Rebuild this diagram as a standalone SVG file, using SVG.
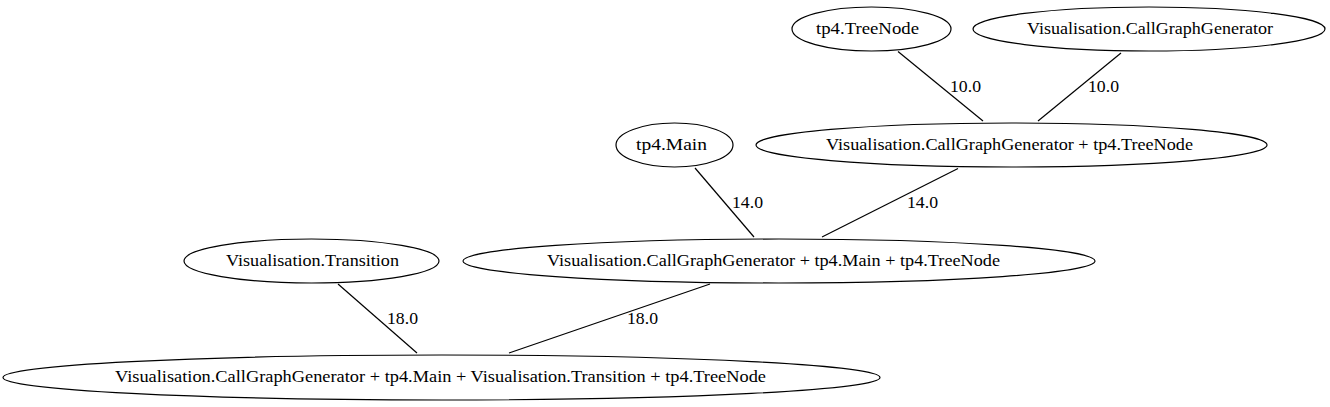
<svg xmlns="http://www.w3.org/2000/svg" width="1330" height="407" viewBox="0 0 1330 407">
<style>
.n ellipse{fill:#fff;stroke:#000;stroke-width:1.2}
text{font-family:'Liberation Serif','DejaVu Serif','Times New Roman',serif;font-size:17px;fill:#000}
#edges line{stroke:#000;stroke-width:1.2}
</style>
<rect width="1330" height="407" fill="#fff"/>
<g id="edges">
<line x1="898" y1="51.5" x2="983" y2="121"/>
<text x="950" y="92" textLength="31" lengthAdjust="spacingAndGlyphs">10.0</text>
<line x1="1121" y1="53" x2="1038" y2="121"/>
<text x="1088" y="92" textLength="31" lengthAdjust="spacingAndGlyphs">10.0</text>
<line x1="695" y1="168" x2="754" y2="237"/>
<text x="732" y="208" textLength="31" lengthAdjust="spacingAndGlyphs">14.0</text>
<line x1="958" y1="168.5" x2="822" y2="237"/>
<text x="907" y="208" textLength="31" lengthAdjust="spacingAndGlyphs">14.0</text>
<line x1="338" y1="284" x2="417" y2="353"/>
<text x="387" y="324" textLength="31" lengthAdjust="spacingAndGlyphs">18.0</text>
<line x1="710" y1="284" x2="509" y2="353"/>
<text x="627" y="324" textLength="31" lengthAdjust="spacingAndGlyphs">18.0</text>
</g>
<g id="n_treenode" class="n">
<ellipse cx="871.5" cy="29" rx="79.5" ry="22"/>
<text x="816" y="34" textLength="103" lengthAdjust="spacingAndGlyphs">tp4.TreeNode</text>
</g>
<g id="n_cgg" class="n">
<ellipse cx="1149" cy="29" rx="176" ry="22"/>
<text x="1027" y="34" textLength="246" lengthAdjust="spacingAndGlyphs">Visualisation.CallGraphGenerator</text>
</g>
<g id="n_main" class="n">
<ellipse cx="674.5" cy="145" rx="58.5" ry="22"/>
<text x="636" y="150" textLength="71" lengthAdjust="spacingAndGlyphs">tp4.Main</text>
</g>
<g id="n_cgg_tn" class="n">
<ellipse cx="1011.5" cy="145" rx="255.5" ry="22"/>
<text x="826" y="150" textLength="367" lengthAdjust="spacingAndGlyphs">Visualisation.CallGraphGenerator + tp4.TreeNode</text>
</g>
<g id="n_transition" class="n">
<ellipse cx="311.5" cy="261" rx="127.5" ry="22"/>
<text x="226" y="266" textLength="173" lengthAdjust="spacingAndGlyphs">Visualisation.Transition</text>
</g>
<g id="n_cgg_main_tn" class="n">
<ellipse cx="779" cy="261" rx="316" ry="22"/>
<text x="547" y="266" textLength="453" lengthAdjust="spacingAndGlyphs">Visualisation.CallGraphGenerator + tp4.Main + tp4.TreeNode</text>
</g>
<g id="n_all" class="n">
<ellipse cx="441.5" cy="377.5" rx="438.5" ry="22.5"/>
<text x="115" y="382" textLength="651" lengthAdjust="spacingAndGlyphs">Visualisation.CallGraphGenerator + tp4.Main + Visualisation.Transition + tp4.TreeNode</text>
</g>
</svg>
